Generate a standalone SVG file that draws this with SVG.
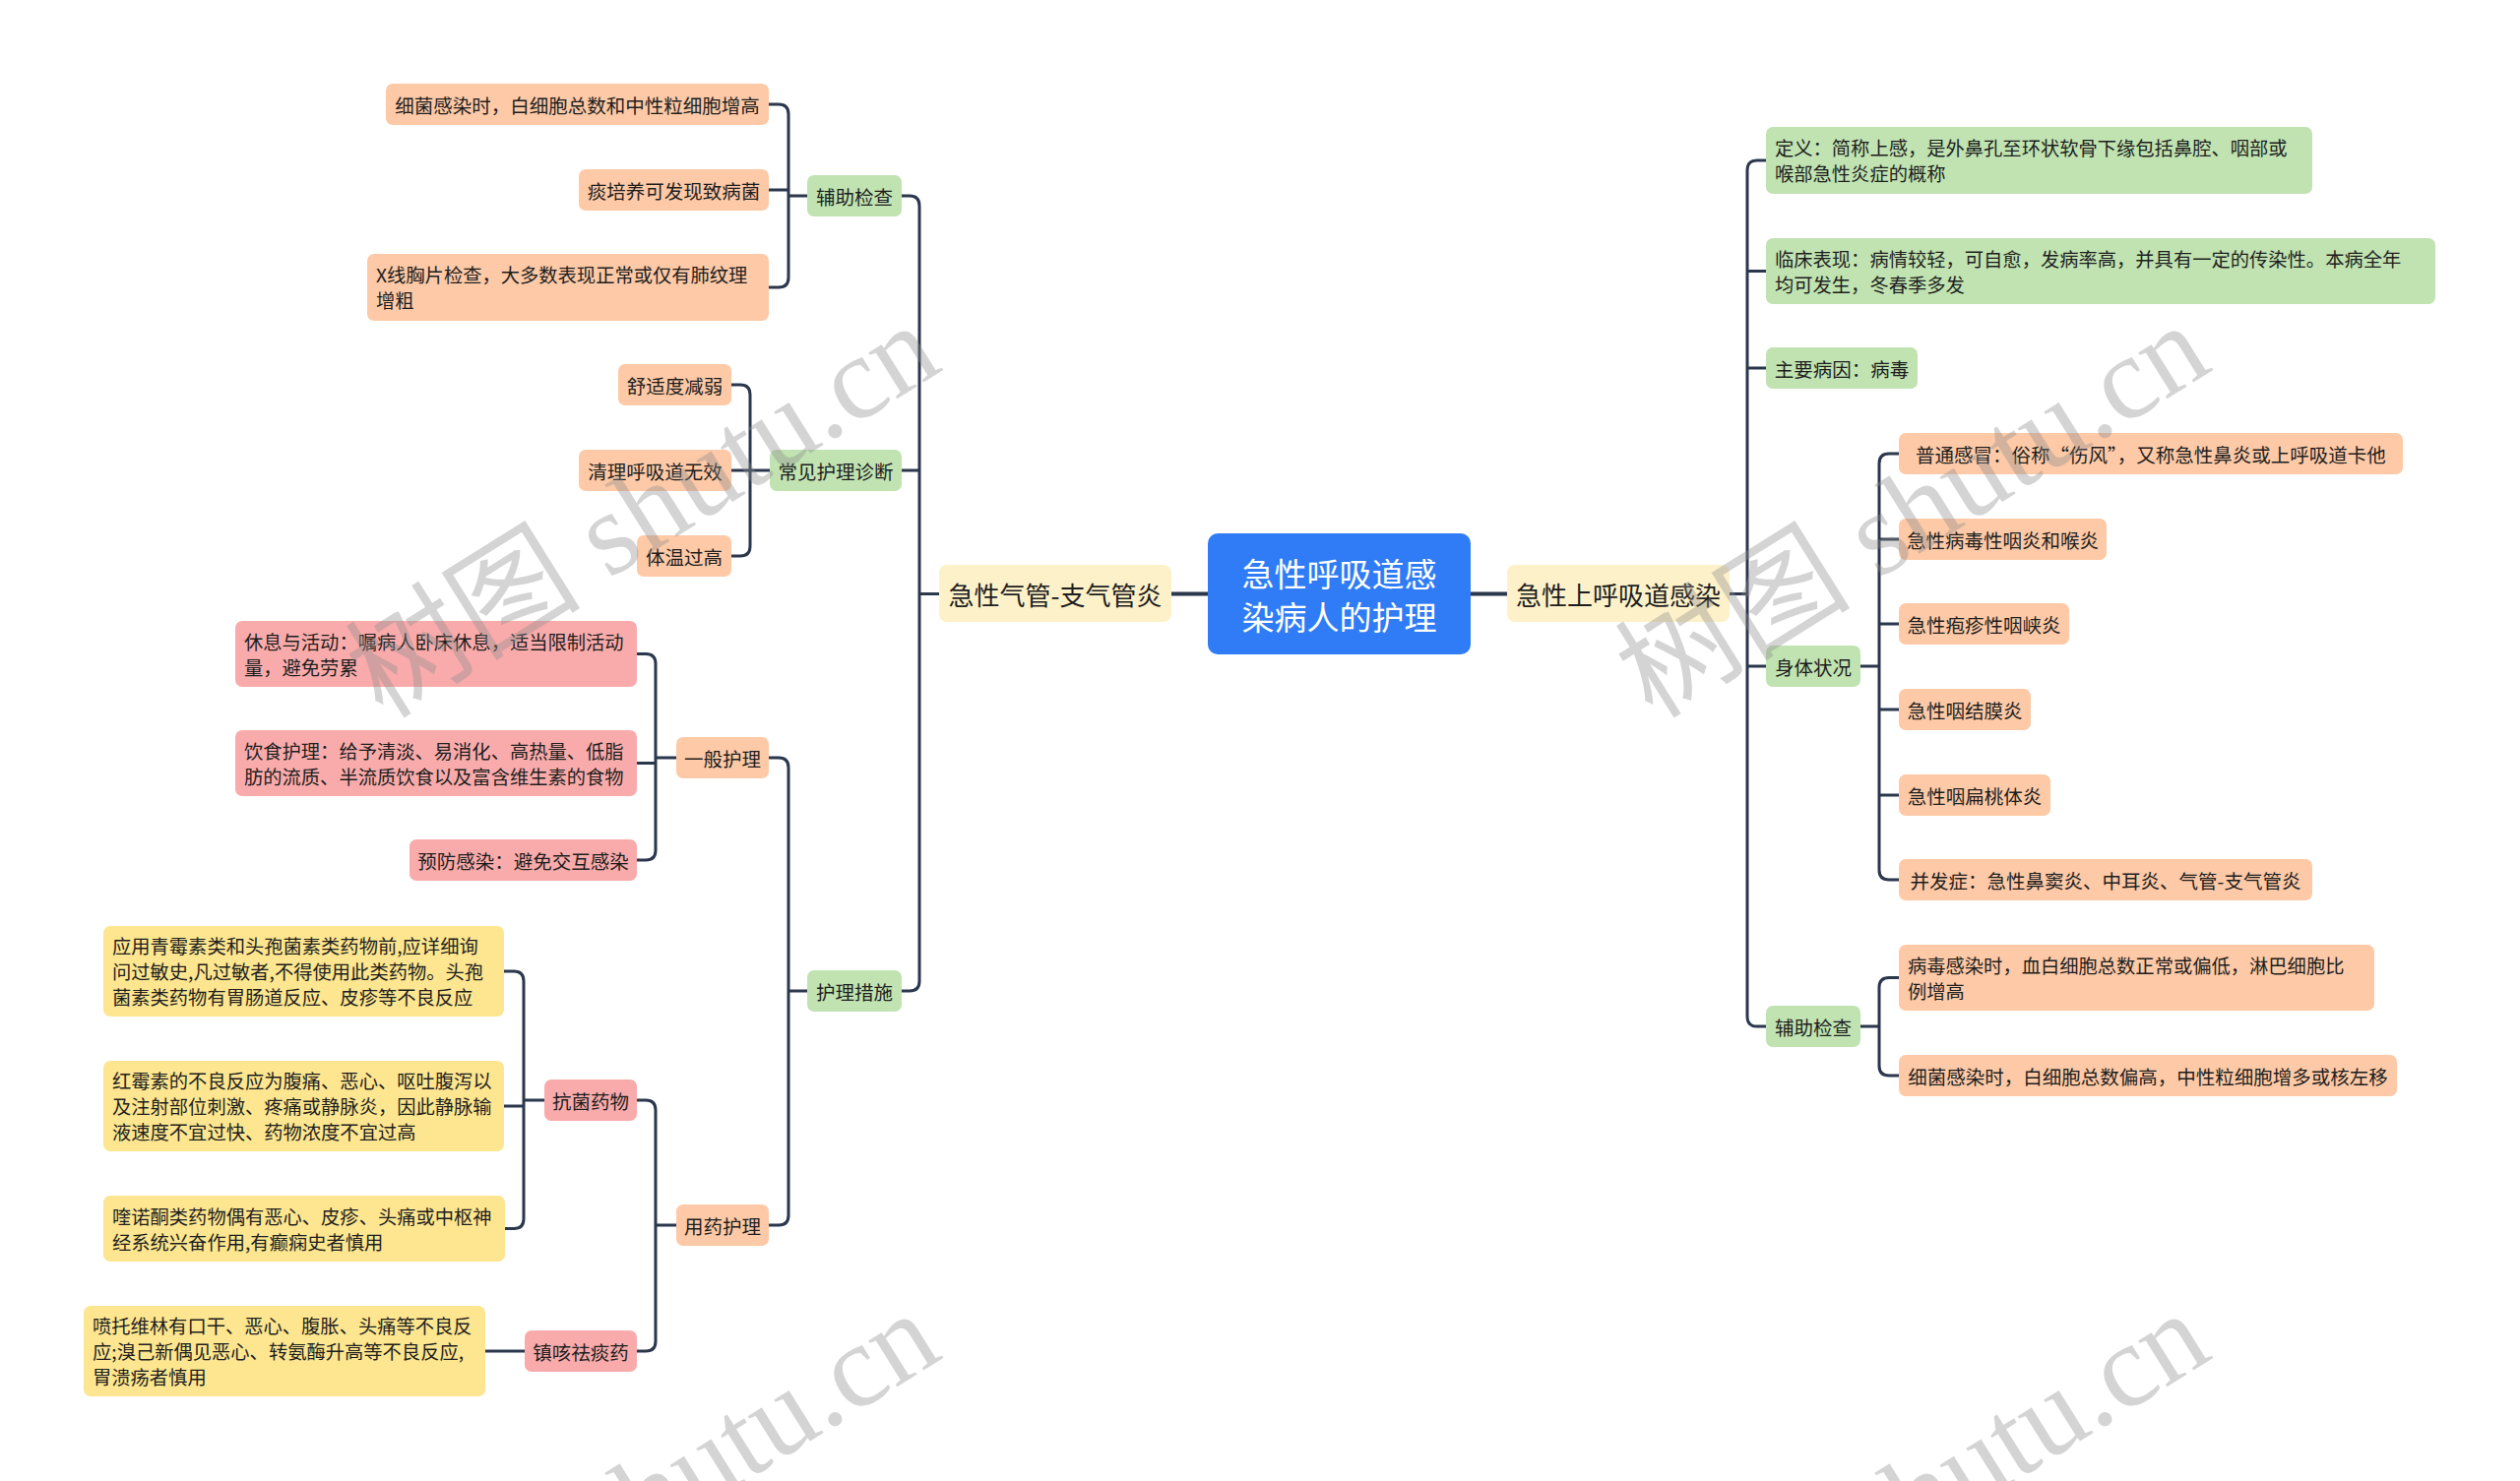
<svg xmlns="http://www.w3.org/2000/svg" width="2560" height="1505" viewBox="0 0 2560 1505">
<style>
.bg{fill:#ffffff}
.root{fill:#2f7cf6}
.l1{fill:#fdf1c9}
.g{fill:#c0e3b1}
.o{fill:#fdc9a6}
.p{fill:#f9abab}
.y{fill:#fde68f}
text{font-family:"Noto Sans CJK SC","Noto Sans",sans-serif;fill:#1e1e1e;dominant-baseline:central}
.t{font-size:19.3px}
.tc{font-size:19.5px;text-anchor:middle}
.t1{font-size:26px;text-anchor:middle}
.tr{font-size:33px;text-anchor:middle;fill:#ffffff}
.c{fill:none;stroke:#2a374c;stroke-width:3;stroke-linecap:round}
.c4{fill:none;stroke:#2a374c;stroke-width:4}
.wm{font-family:"Liberation Serif","Noto Sans CJK SC",serif;font-size:120px;fill:#8f8f8f;fill-opacity:0.38;text-anchor:middle}
</style>
<rect class="bg" x="0" y="0" width="2560" height="1505"/>

<g id="connectors">
<path class="c4" d="M1227,603.5 H1190 M1494,603.5 H1531"/>
<path class="c" d="M916,199 H924 Q934,199 934,209 V997 Q934,1007 924,1007 H916 M916,478 H934 M954,603.5 H934"/>
<path class="c" d="M781,106 H791 Q801,106 801,116 V282 Q801,292 791,292 H781 M781,193 H801 M820,199 H801"/>
<path class="c" d="M743,391 H752 Q762,391 762,401 V555 Q762,565 752,565 H743 M743,478 H782"/>
<path class="c" d="M781,770 H791 Q801,770 801,780 V1235 Q801,1245 791,1245 H781 M820,1007 H801"/>
<path class="c" d="M647,664.5 H656 Q666,664.5 666,674.5 V864 Q666,874 656,874 H647 M647,775.5 H666 M687,770 H666"/>
<path class="c" d="M647,1118 H656 Q666,1118 666,1128 V1363 Q666,1373 656,1373 H647 M687,1245 H666"/>
<path class="c" d="M512,987 H522 Q532,987 532,997 V1238.5 Q532,1248.5 522,1248.5 H513 M512,1124 H532 M553,1118 H532"/>
<path class="c" d="M493,1373 H533"/>
<path class="c" d="M1794,163 H1785 Q1775,163 1775,173 V1033 Q1775,1043 1785,1043 H1794 M1794,275.5 H1775 M1794,374 H1775 M1794,677 H1775 M1757,603.5 H1775"/>
<path class="c" d="M1929,461 H1919 Q1909,461 1909,471 V884 Q1909,894 1919,894 H1929 M1929,548 H1909 M1929,634 H1909 M1929,721 H1909 M1929,808 H1909 M1890,677 H1909"/>
<path class="c" d="M1929,993.5 H1919 Q1909,993.5 1909,1003.5 V1083 Q1909,1093 1919,1093 H1929 M1890,1043 H1909"/>
</g>

<g id="root"><rect class="root" x="1227" y="542" width="267" height="123" rx="10"/>
<text class="tr" x="1360.5" y="581.5">急性呼吸道感</text><text class="tr" x="1360.5" y="625.5">染病人的护理</text></g>

<g id="n-left-l1"><rect class="l1" x="954" y="574" width="236" height="58" rx="8"/><text class="t1" x="1072" y="603.5">急性气管-支气管炎</text></g>
<g id="n-right-l1"><rect class="l1" x="1531" y="574" width="226" height="58" rx="8"/><text class="t1" x="1644" y="603.5">急性上呼吸道感染</text></g>

<g id="n-fzjc-l"><rect class="g" x="820" y="178" width="96" height="42" rx="7"/><text class="tc" x="868" y="199">辅助检查</text></g>
<g id="n-cjhlzd"><rect class="g" x="782" y="457" width="134" height="42" rx="7"/><text class="tc" x="849" y="478">常见护理诊断</text></g>
<g id="n-hlcs"><rect class="g" x="820" y="986" width="96" height="42" rx="7"/><text class="tc" x="868" y="1007">护理措施</text></g>

<g id="n-la1"><rect class="o" x="392" y="85" width="389" height="42" rx="7"/><text class="tc" x="586.5" y="106">细菌感染时，白细胞总数和中性粒细胞增高</text></g>
<g id="n-la2"><rect class="o" x="588" y="172" width="193" height="42" rx="7"/><text class="tc" x="684.5" y="193">痰培养可发现致病菌</text></g>
<g id="n-la3"><rect class="o" x="373" y="258" width="408" height="68" rx="7"/><text class="t" x="382" y="279">X线胸片检查，大多数表现正常或仅有肺纹理</text><text class="t" x="382" y="305">增粗</text></g>

<g id="n-lb1"><rect class="o" x="628" y="370" width="115" height="42" rx="7"/><text class="tc" x="685.5" y="391">舒适度减弱</text></g>
<g id="n-lb2"><rect class="o" x="588" y="457" width="155" height="42" rx="7"/><text class="tc" x="665.5" y="478">清理呼吸道无效</text></g>
<g id="n-lb3"><rect class="o" x="647" y="544" width="96" height="42" rx="7"/><text class="tc" x="695" y="565">体温过高</text></g>

<g id="n-ybhl"><rect class="o" x="687" y="749" width="94" height="42" rx="7"/><text class="tc" x="734" y="770">一般护理</text></g>
<g id="n-yyhl"><rect class="o" x="687" y="1224" width="94" height="42" rx="7"/><text class="tc" x="734" y="1245">用药护理</text></g>

<g id="n-xx"><rect class="p" x="239" y="631" width="408" height="67" rx="7"/><text class="t" x="248" y="651.5">休息与活动：嘱病人卧床休息，适当限制活动</text><text class="t" x="248" y="677.5">量，避免劳累</text></g>
<g id="n-ys"><rect class="p" x="239" y="742" width="408" height="67" rx="7"/><text class="t" x="248" y="762.5">饮食护理：给予清淡、易消化、高热量、低脂</text><text class="t" x="248" y="788.5">肪的流质、半流质饮食以及富含维生素的食物</text></g>
<g id="n-yf"><rect class="p" x="416" y="853" width="231" height="42" rx="7"/><text class="tc" x="531.5" y="874">预防感染：避免交互感染</text></g>
<g id="n-kjyw"><rect class="p" x="553" y="1097" width="94" height="42" rx="7"/><text class="tc" x="600" y="1118">抗菌药物</text></g>
<g id="n-zkqty"><rect class="p" x="533" y="1352" width="114" height="42" rx="7"/><text class="tc" x="590" y="1373">镇咳祛痰药</text></g>

<g id="n-qms"><rect class="y" x="105" y="941" width="407" height="92" rx="7"/><text class="t" x="114" y="961">应用青霉素类和头孢菌素类药物前,应详细询</text><text class="t" x="114" y="987">问过敏史,凡过敏者,不得使用此类药物。头孢</text><text class="t" x="114" y="1013">菌素类药物有胃肠道反应、皮疹等不良反应</text></g>
<g id="n-hms"><rect class="y" x="105" y="1078" width="407" height="92" rx="7"/><text class="t" x="114" y="1098">红霉素的不良反应为腹痛、恶心、呕吐腹泻以</text><text class="t" x="114" y="1124">及注射部位刺激、疼痛或静脉炎，因此静脉输</text><text class="t" x="114" y="1150">液速度不宜过快、药物浓度不宜过高</text></g>
<g id="n-knt"><rect class="y" x="105" y="1215" width="408" height="67" rx="7"/><text class="t" x="114" y="1235.5">喹诺酮类药物偶有恶心、皮疹、头痛或中枢神</text><text class="t" x="114" y="1261.5">经系统兴奋作用,有癫痫史者慎用</text></g>
<g id="n-pt"><rect class="y" x="85" y="1327" width="408" height="92" rx="7"/><text class="t" x="94" y="1347">喷托维林有口干、恶心、腹胀、头痛等不良反</text><text class="t" x="94" y="1373">应;溴己新偶见恶心、转氨酶升高等不良反应,</text><text class="t" x="94" y="1399">胃溃疡者慎用</text></g>

<g id="n-dy"><rect class="g" x="1794" y="129" width="555" height="68" rx="7"/><text class="t" x="1803" y="150">定义：简称上感，是外鼻孔至环状软骨下缘包括鼻腔、咽部或</text><text class="t" x="1803" y="176">喉部急性炎症的概称</text></g>
<g id="n-lc"><rect class="g" x="1794" y="242" width="680" height="67" rx="7"/><text class="t" x="1803" y="262.5">临床表现：病情较轻，可自愈，发病率高，并具有一定的传染性。本病全年</text><text class="t" x="1803" y="288.5">均可发生，冬春季多发</text></g>
<g id="n-zy"><rect class="g" x="1794" y="353" width="154" height="42" rx="7"/><text class="tc" x="1871" y="374">主要病因：病毒</text></g>
<g id="n-stzk"><rect class="g" x="1794" y="656" width="96" height="42" rx="7"/><text class="tc" x="1842" y="677">身体状况</text></g>
<g id="n-fzjc-r"><rect class="g" x="1794" y="1022" width="96" height="42" rx="7"/><text class="tc" x="1842" y="1043">辅助检查</text></g>

<g id="n-r1"><rect class="o" x="1929" y="440" width="512" height="42" rx="7"/><text class="tc" x="2185" y="461">普通感冒：俗称“伤风”，又称急性鼻炎或上呼吸道卡他</text></g>
<g id="n-r2"><rect class="o" x="1929" y="527" width="211" height="42" rx="7"/><text class="tc" x="2034.5" y="548">急性病毒性咽炎和喉炎</text></g>
<g id="n-r3"><rect class="o" x="1929" y="613" width="173" height="42" rx="7"/><text class="tc" x="2015.5" y="634">急性疱疹性咽峡炎</text></g>
<g id="n-r4"><rect class="o" x="1929" y="700" width="134" height="42" rx="7"/><text class="tc" x="1996" y="721">急性咽结膜炎</text></g>
<g id="n-r5"><rect class="o" x="1929" y="787" width="154" height="42" rx="7"/><text class="tc" x="2006" y="808">急性咽扁桃体炎</text></g>
<g id="n-r6"><rect class="o" x="1929" y="873" width="420" height="42" rx="7"/><text class="tc" x="2139" y="894">并发症：急性鼻窦炎、中耳炎、气管-支气管炎</text></g>
<g id="n-r7"><rect class="o" x="1929" y="960" width="483" height="67" rx="7"/><text class="t" x="1938" y="980.5">病毒感染时，血白细胞总数正常或偏低，淋巴细胞比</text><text class="t" x="1938" y="1006.5">例增高</text></g>
<g id="n-r8"><rect class="o" x="1929" y="1072" width="506" height="42" rx="7"/><text class="tc" x="2182" y="1093">细菌感染时，白细胞总数偏高，中性粒细胞增多或核左移</text></g>

<g id="watermark">
<text class="wm" transform="translate(653,519) rotate(-32)">树图 shutu.cn</text>
<text class="wm" transform="translate(1943,519) rotate(-32)">树图 shutu.cn</text>
<text class="wm" transform="translate(653,1523) rotate(-32)">树图 shutu.cn</text>
<text class="wm" transform="translate(1943,1523) rotate(-32)">树图 shutu.cn</text>
</g>
</svg>
